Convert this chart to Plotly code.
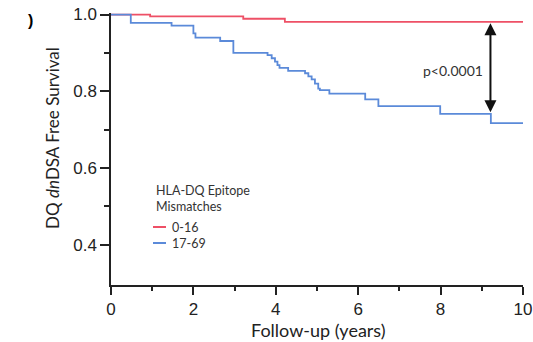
import plotly.graph_objects as go

# ---- data ----
group_names = ["0-16", "17-69"]
red_time = [0, 0.95, 3.21, 4.22, 10]
red_surv = [1.0, 0.995, 0.989, 0.981, 0.981]
blue_time = [0, 0.48, 1.47, 2.0, 2.05, 2.65, 2.97, 3.80, 3.90, 3.98, 4.04, 4.09,
             4.30, 4.71, 4.79, 4.87, 4.95, 5.03, 5.07, 5.30, 6.17, 6.49, 7.99, 9.22, 10]
blue_surv = [1.0, 0.978, 0.971, 0.951, 0.940, 0.931, 0.900, 0.894, 0.886, 0.877, 0.868, 0.861,
             0.853, 0.847, 0.839, 0.831, 0.820, 0.807, 0.803, 0.794, 0.779, 0.761, 0.741, 0.717, 0.717]
x_ticks = [0, 2, 4, 6, 8, 10]
x_minor = [1, 3, 5, 7, 9]
y_ticks = [0.4, 0.6, 0.8, 1.0]
y_minor = [0.5, 0.7, 0.9]
p_text = "p<0.0001"
arrow_x = 9.21
arrow_top = 0.981
arrow_bottom = 0.745

RED = "#ee5066"
BLUE = "#5b8ad9"
AX = "#222222"
TXT_FONT = "Lato, 'Open Sans', sans-serif"

W, H = 533, 342
PL, PT, PW, PH = 111, 13, 412, 272   # plot area in page pixels


def px(xp):
    return (xp - PL) / PW


def py(yp):
    return (PT + PH - yp) / PH


fig = go.Figure()
fig.add_trace(go.Scatter(x=red_time, y=red_surv, mode="lines", line_shape="hv",
                         line=dict(color=RED, width=1.8), name=group_names[0], showlegend=False))
fig.add_trace(go.Scatter(x=blue_time, y=blue_surv, mode="lines", line_shape="hv",
                         line=dict(color=BLUE, width=1.8), name=group_names[1], showlegend=False))

axis_common = dict(showgrid=False, zeroline=False, showline=True, linecolor=AX, linewidth=1.5,
                   ticks="outside", tickcolor=AX, tickwidth=1.5, ticklabeloverflow="allow",
                   automargin=False,
                   tickfont=dict(family="'Liberation Sans', Arial, sans-serif", size=17, color=AX))

fig.update_xaxes(range=[0, 10], tickvals=x_ticks, ticklen=8,
                 minor=dict(tickvals=x_minor, ticks="outside", ticklen=4, tickcolor=AX, tickwidth=1.5),
                 **axis_common)
fig.update_yaxes(range=[0.295, 1.004], tickvals=y_ticks, ticktext=[f"{v:.1f}" for v in y_ticks],
                 ticklen=9,
                 minor=dict(tickvals=y_minor, ticks="outside", ticklen=5, tickcolor=AX, tickwidth=1.5),
                 **axis_common)

annotations = []
# axis titles
annotations.append(dict(text="DQ <i>dn</i>DSA Free Survival", xref="paper", yref="paper",
                        x=px(52), y=py(138), textangle=-90, showarrow=False,
                        xanchor="center", yanchor="middle",
                        font=dict(family=TXT_FONT, size=17, color=AX)))
annotations.append(dict(text="Follow-up (years)", xref="paper", yref="paper",
                        x=px(318), y=py(330), showarrow=False,
                        xanchor="center", yanchor="middle",
                        font=dict(family=TXT_FONT, size=18, color=AX)))
# double-headed arrow
annotations.append(dict(x=arrow_x, y=arrow_bottom, ax=arrow_x, ay=arrow_top,
                        xref="x", yref="y", axref="x", ayref="y", text="",
                        showarrow=True, arrowhead=2, startarrowhead=2, arrowside="end+start",
                        arrowsize=1.2, startarrowsize=1.2, arrowwidth=2, arrowcolor="#111111"))
annotations.append(dict(text=p_text, x=8.30, y=0.853, xref="x", yref="y", showarrow=False,
                        xanchor="center", yanchor="middle",
                        font=dict(family=TXT_FONT, size=14, color="#333333")))
# legend (manual)
annotations.append(dict(text="HLA-DQ Epitope<br>Mismatches", xref="paper", yref="paper",
                        x=px(154), y=py(198), showarrow=False,
                        xanchor="left", yanchor="middle", align="left",
                        font=dict(family=TXT_FONT, size=12.5, color="#333333")))
shapes = []
for name, col, ypix in [(group_names[0], RED, 227), (group_names[1], BLUE, 243)]:
    yp = py(ypix)
    shapes.append(dict(type="line", xref="paper", yref="paper",
                       x0=px(153), x1=px(166), y0=yp, y1=yp,
                       line=dict(color=col, width=2)))
    annotations.append(dict(text=name, xref="paper", yref="paper", x=px(170), y=yp,
                            showarrow=False, xanchor="left", yanchor="middle",
                            font=dict(family=TXT_FONT, size=12.5, color="#333333")))
# partial panel label
annotations.append(dict(text="<b>)</b>", xref="paper", yref="paper", x=px(30),
                        y=py(20), showarrow=False, xanchor="center", yanchor="middle",
                        font=dict(family="'Liberation Sans', Arial", size=16, color="#000")))

fig.update_layout(width=W, height=H,
                  margin=dict(l=PL, r=W - PL - PW, t=PT, b=H - PT - PH),
                  plot_bgcolor="white", paper_bgcolor="white",
                  annotations=annotations, shapes=shapes, showlegend=False)

fig.write_html("out.html", config={"displayModeBar": False},
               post_script="document.body.style.margin='0';document.body.style.overflow='hidden';")
